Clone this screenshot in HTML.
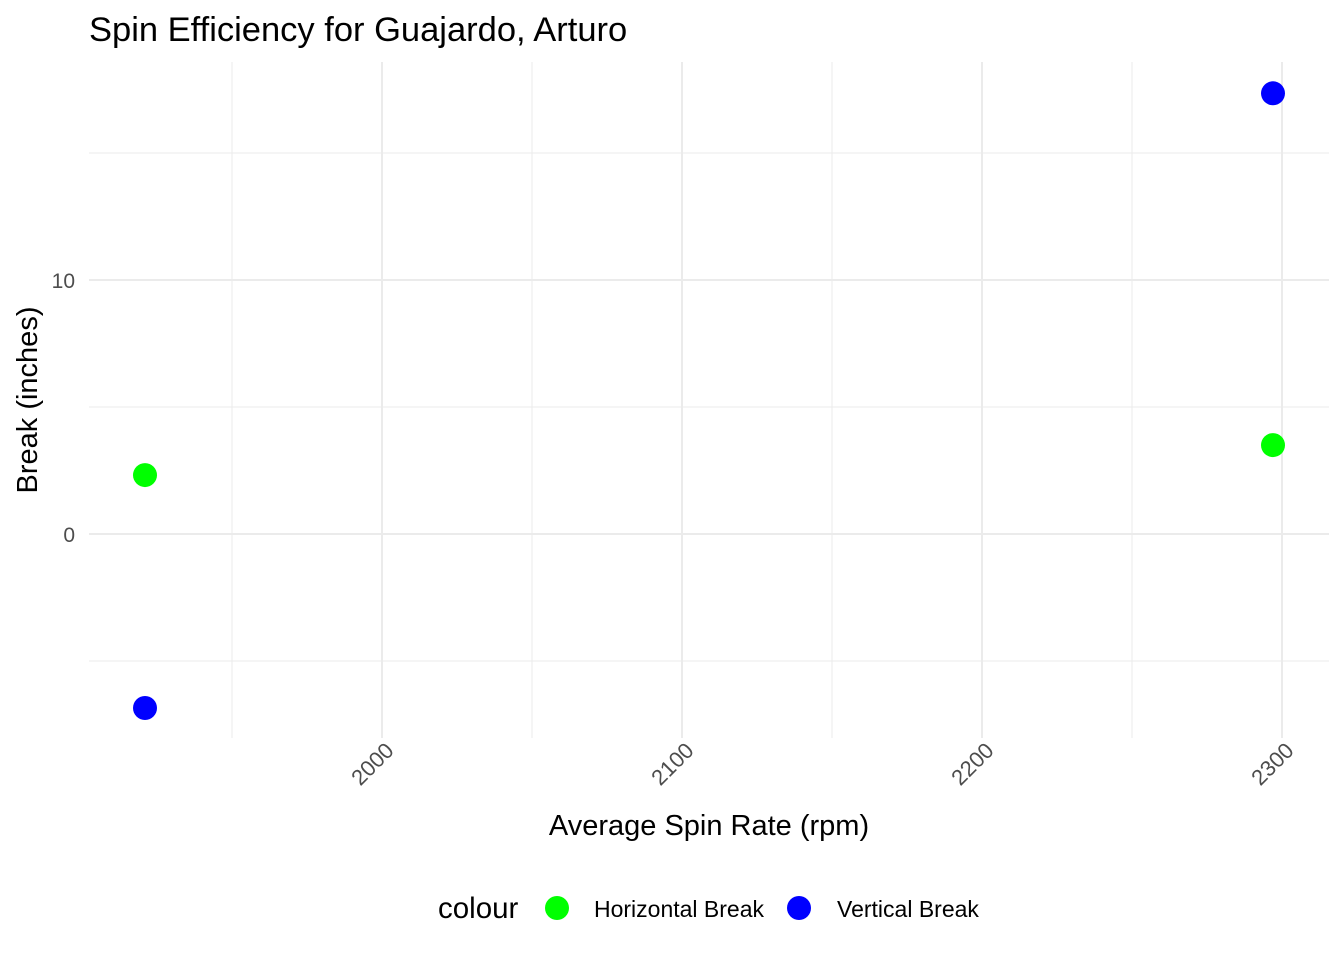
<!DOCTYPE html>
<html><head><meta charset="utf-8">
<style>
html,body{margin:0;padding:0;background:#fff;}
svg{display:block;font-family:"Liberation Sans",Arial,sans-serif;}
</style></head>
<body>
<svg id="chart" width="1344" height="960">
<text x="89" y="41" font-size="34.5" fill="#000">Spin Efficiency for Guajardo, Arturo</text>
<g id="grid"></g>
<g id="ticks"></g>
<g id="points"></g>
<text x="709" y="835" font-size="29" text-anchor="middle" fill="#000">Average Spin Rate (rpm)</text>
<text transform="translate(37,400) rotate(-90)" font-size="29" text-anchor="middle" fill="#000">Break (inches)</text>
<g>
<text x="438" y="918" font-size="29.5" fill="#000">colour</text>
<g>
<circle cx="557" cy="908" r="12" fill="#00ff00"/>
<text x="594" y="917" font-size="23" fill="#000">Horizontal Break</text></g>
<g>
<circle cx="799" cy="908" r="12" fill="#0000ff"/>
<text x="837" y="917" font-size="23" fill="#000">Vertical Break</text></g>
</g>
</svg>
<script>
const spinRates=[1921,2297];
const horizontalBreak=[2.32,3.5];
const verticalBreak=[-6.85,17.35];
const xTicks=[2000,2100,2200,2300];
const xMinor=[1950,2050,2150,2250];
const yTicks=[0,10];
const yMinor=[-5,5,15];
const L=89,R=1329,T=62,B=738;
const xs=v=>382+(v-2000)*3;
const ys=v=>534-v*25.4;
const NS="http://www.w3.org/2000/svg";
const grid=document.getElementById('grid'),ticks=document.getElementById('ticks'),pts=document.getElementById('points');
function line(x1,y1,x2,y2,w,name){const l=document.createElementNS(NS,'line');
l.setAttribute('x1',x1);l.setAttribute('y1',y1);l.setAttribute('x2',x2);l.setAttribute('y2',y2);
l.setAttribute('stroke','#ebebeb');l.setAttribute('stroke-width',w);


grid.appendChild(l);}
xMinor.forEach(v=>line(xs(v),T,xs(v),B,1,'x-minor-gridline'));
yMinor.forEach(v=>line(L,ys(v),R,ys(v),1,'y-minor-gridline'));
xTicks.forEach(v=>{line(xs(v),T,xs(v),B,2,'x-major-gridline');
const t=document.createElementNS(NS,'text');
t.setAttribute('transform',`translate(${xs(v)+13},${752}) rotate(-45)`);
t.setAttribute('text-anchor','end');t.setAttribute('font-size','22');t.setAttribute('fill','#4d4d4d');
t.textContent=v;


ticks.appendChild(t);});
yTicks.forEach(v=>{line(L,ys(v),R,ys(v),2,'y-major-gridline');
const t=document.createElementNS(NS,'text');
t.setAttribute('x',75);t.setAttribute('y',ys(v)+8);
t.setAttribute('text-anchor','end');t.setAttribute('font-size','21');t.setAttribute('fill','#4d4d4d');
t.textContent=v;


ticks.appendChild(t);});
function pt(x,y,c,name){const e=document.createElementNS(NS,'circle');
e.setAttribute('cx',xs(x));e.setAttribute('cy',ys(y));e.setAttribute('r',12);e.setAttribute('fill',c);


pts.appendChild(e);}
spinRates.forEach((s,i)=>{pt(s,horizontalBreak[i],'#00ff00','horizontal-break-point');pt(s,verticalBreak[i],'#0000ff','vertical-break-point');});
</script>
</body></html>
